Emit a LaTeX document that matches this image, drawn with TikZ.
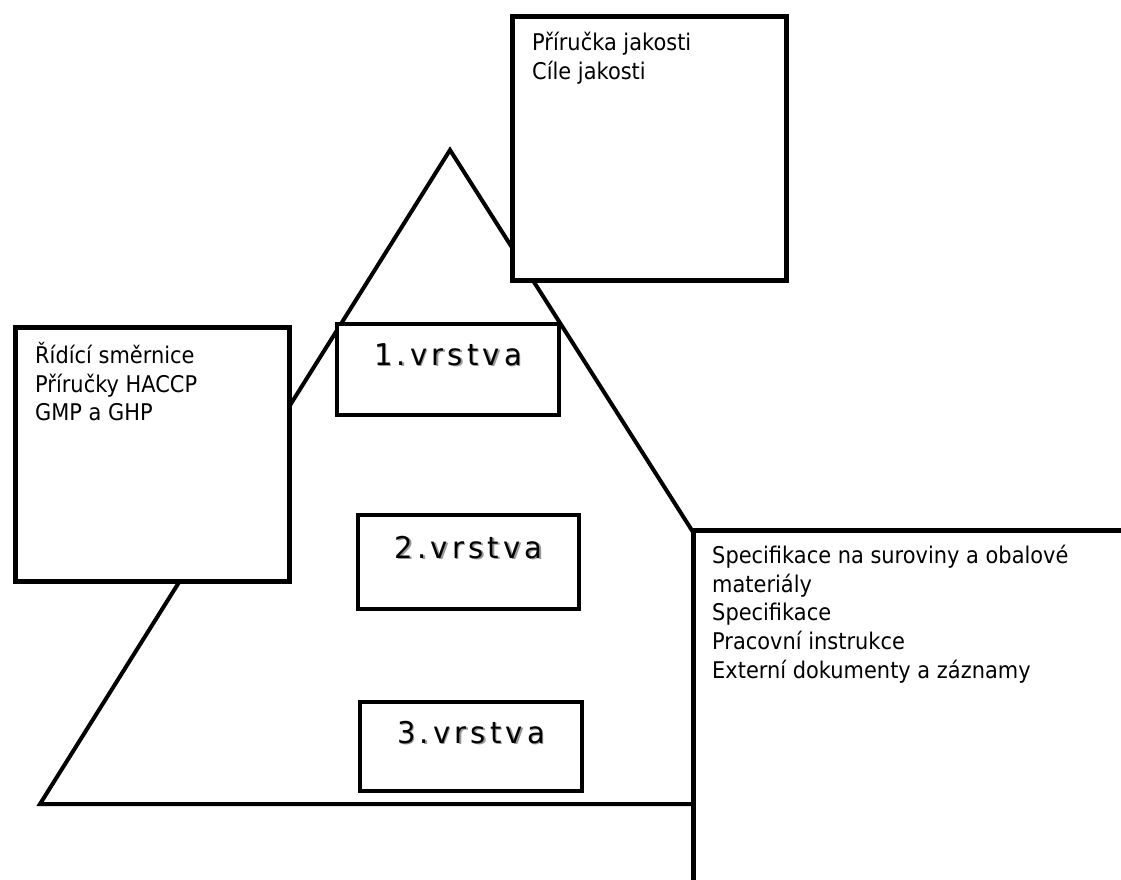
\documentclass[tikz,border=0pt]{standalone}
\usepackage{fontspec}
\setmainfont{DejaVu Sans}[FakeStretch=0.91]
\newfontfamily\layerfont{DejaVu Sans}[FakeStretch=0.97,LetterSpace=14]
\usetikzlibrary{calc}

% layer caption with a soft grey drop shadow
\newcommand{\shadowcaption}[1]{%
  \makebox[0pt][l]{\hspace*{1.8pt}\raisebox{-1.8pt}{\textcolor{black!40}{#1}}}#1}

\tikzset{
  pyramid/.style={draw=black, line width=4pt, line join=miter},
  docbox/.style={draw=black, fill=white, line width=4.5pt, rectangle,
                 inner sep=0pt, anchor=north west},
  layerbox/.style={draw=black, fill=white, line width=4pt, rectangle,
                   inner sep=0pt, anchor=north west},
  doctext/.style={anchor=north west, inner sep=0pt, align=left,
                  font=\fontsize{23}{28.8}\selectfont},
  layertext/.style={anchor=base, inner sep=0pt,
                    font=\layerfont\fontsize{30}{34}\selectfont},
}

\begin{document}
\begin{tikzpicture}[x=1pt, y=-1pt]
  \useasboundingbox (0,0) rectangle (1121,879);
  \clip (0,0) rectangle (1121,879);

  % the pyramid outline
  \coordinate (apex) at (450,150);
  \coordinate (bl) at (40,804);
  \coordinate (br) at (866,804);
  \draw[pyramid] (apex) -- (bl) -- (br) -- cycle;

  % document boxes
  \node[docbox, minimum width=274pt, minimum height=264pt] (quality) at (510,14) {};
  \node[docbox, minimum width=274pt, minimum height=254pt] (control) at (13,325) {};
  \node[docbox, minimum width=600pt, minimum height=500pt] (specs) at (691,528) {};

  \node[doctext] (qualitytext) at (532,26)
    {\rule{0pt}{24pt}Příručka jakosti\\Cíle jakosti};
  \node[doctext] (controltext) at (35,339)
    {\rule{0pt}{24pt}Řídící směrnice\\Příručky HACCP\\GMP a GHP};
  \node[doctext] (specstext) at (712,539)
    {\rule{0pt}{24pt}Specifikace na suroviny a obalové\\materiály\\Specifikace\\Pracovní instrukce\\Externí dokumenty a záznamy};

  % layer boxes inside the pyramid
  \node[layerbox, minimum width=222pt, minimum height=91pt] (layer1) at (335,322) {};
  \node[layerbox, minimum width=221pt, minimum height=94pt] (layer2) at (356,513) {};
  \node[layerbox, minimum width=222pt, minimum height=89pt] (layer3) at (358,700) {};

  \node[layertext] (layer1text) at ($(layer1.north)+(0,43)$) {\shadowcaption{1.vrstva}};
  \node[layertext] (layer2text) at ($(layer2.north)+(0,45)$) {\shadowcaption{2.vrstva}};
  \node[layertext] (layer3text) at ($(layer3.north)+(0,43)$) {\shadowcaption{3.vrstva}};
\end{tikzpicture}
\end{document}
